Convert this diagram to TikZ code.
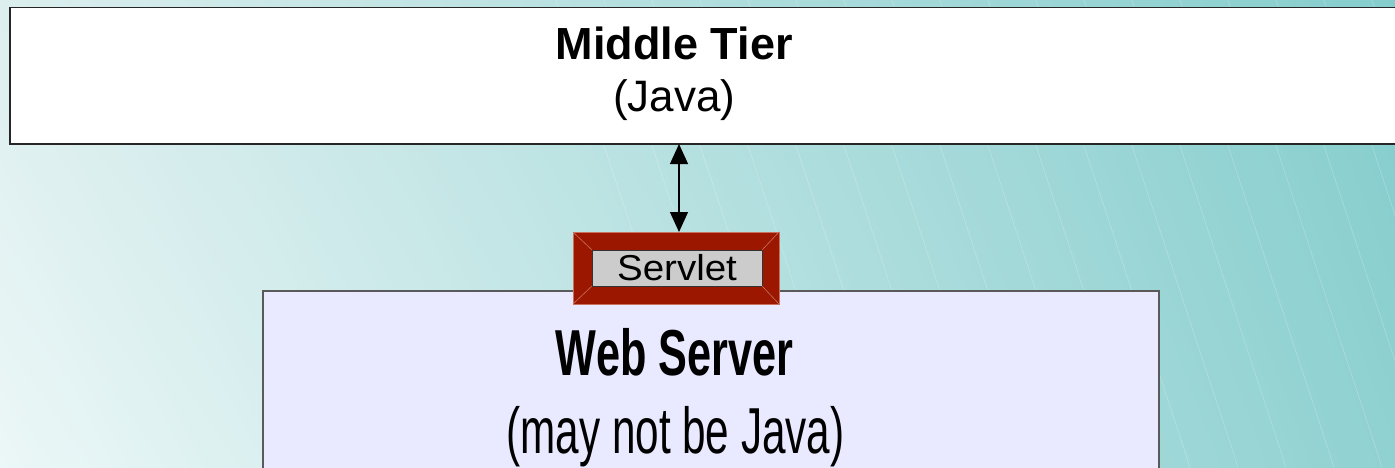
\documentclass[tikz,border=0pt]{standalone}
\usepackage{fontspec}
\usepackage{graphicx}
\setmainfont{Liberation Sans}
\usetikzlibrary{arrows.meta,shadings}
\definecolor{bgTL}{HTML}{DCEEEE}
\definecolor{bgTR}{HTML}{85CDCD}
\definecolor{bgBL}{HTML}{ECF7F7}
\definecolor{bgBR}{HTML}{90D1D1}
\definecolor{servred}{HTML}{9B1700}
\definecolor{servedge}{HTML}{C9705E}
\definecolor{servgrey}{HTML}{CCCCCC}
\definecolor{webfill}{HTML}{E9E9FF}
\definecolor{webedge}{HTML}{5A5A5A}
\tikzset{
  boxtop/.style={draw=black!85, line width=1.3pt, fill=white, inner sep=0pt, outer sep=0pt},
  boxweb/.style={draw=webedge, line width=1.3pt, fill=webfill, inner sep=0pt, outer sep=0pt},
  servouter/.style={fill=servred, draw=servedge, line width=0.6pt, inner sep=0pt, outer sep=0pt},
  servinner/.style={fill=servgrey, draw=black!80, line width=0.8pt, inner sep=0pt, outer sep=0pt},
  lbl/.style={anchor=base, inner sep=0pt, text=black},
  link/.style={line width=1.2pt, {Triangle[width=18pt,length=20pt]}-{Triangle[width=18pt,length=20pt]}},
  hatch/.style={white, opacity=0.22, line width=0.7pt}
}
\begin{document}
\begin{tikzpicture}[x=1pt,y=-1pt]
\useasboundingbox (0,0) rectangle (1395,467);
\clip (0,0) rectangle (1395,467);
\shade[upper left=bgTL, upper right=bgTR, lower left=bgBL, lower right=bgBR] (0,0) rectangle (1395,467);
\foreach \k in {-10,...,32} {
  \draw[hatch] ({1125+48*\k-89},0) -- ({1125+48*\k+65},467);
}
% Middle tier
\node[boxtop, minimum width=1395pt, minimum height=136.5pt] (mid) at (707.5,75.75) {};
\node[lbl] (midtitle) at (674.3,59) {\fontsize{45}{45}\selectfont\bfseries Middle Tier};
\node[lbl] (midsub) at (674.2,111.7) {\fontsize{44}{44}\selectfont (Java)};
% Web server
\node[boxweb, minimum width=896pt, minimum height=209pt] (web) at (711,395.5) {};
\node[lbl] (webtitle) at (674.5,375) {\fontsize{65}{65}\selectfont\scalebox{0.665}[1]{\bfseries Web Server}};
\node[lbl] (websub) at (675.5,453) {\fontsize{65}{65}\selectfont\scalebox{0.65}[1]{(may not be Java)}};
% Servlet
\node[servouter, minimum width=206pt, minimum height=72pt] (servlet) at (676,268) {};
\node[servinner, minimum width=170pt, minimum height=36pt] (servin) at (677,268) {};
\draw[servedge, line width=0.6pt] (servlet.north west) -- (servin.north west)
  (servlet.north east) -- (servin.north east)
  (servlet.south west) -- (servin.south west)
  (servlet.south east) -- (servin.south east);
\node[lbl] (servtext) at (677,280) {\fontsize{36}{36}\selectfont\scalebox{1.07}[1]{Servlet}};
% connector
\coordinate (ax) at (679,0);
\draw[link] (mid.south -| ax) -- (servlet.north -| ax);
\end{tikzpicture}
\end{document}
